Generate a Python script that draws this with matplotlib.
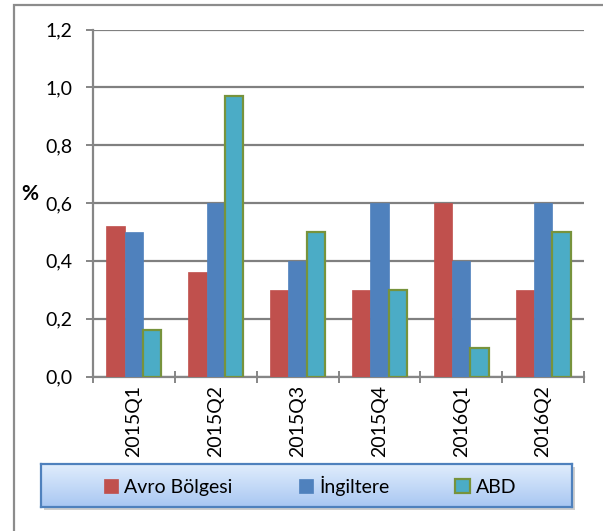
import numpy as np
import matplotlib.pyplot as plt
from matplotlib.patches import Rectangle

quarters = ["2015Q1", "2015Q2", "2015Q3", "2015Q4", "2016Q1", "2016Q2"]
avro = [0.52, 0.36, 0.30, 0.30, 0.60, 0.30]
ingiltere = [0.50, 0.60, 0.40, 0.60, 0.40, 0.60]
abd = [0.16, 0.97, 0.50, 0.30, 0.10, 0.50]
series_names = ["Avro Bölgesi", "İngiltere", "ABD"]
y_ticks = [0.0, 0.2, 0.4, 0.6, 0.8, 1.0, 1.2]

plt.rcParams["font.family"] = ["Lato", "DejaVu Sans"]

W, H = 603, 531
fig = plt.figure(figsize=(W / 100, H / 100), dpi=100)


def fx(px):
    return px / W


def fy(py):
    return 1 - py / H


# outer chart border (cropped on right/bottom)
fig.patches.append(Rectangle((fx(14), fy(560)), fx(620), fy(5) - fy(560),
                             transform=fig.transFigure, fill=False,
                             edgecolor="#8c8c8c", linewidth=1.6, zorder=0))

ax = fig.add_axes([fx(93), fy(376.5), fx(584) - fx(93), fy(29.5) - fy(376.5)])

x = np.arange(len(quarters))
bw = 0.224
ax.bar(x - bw, avro, bw, color="#C0504D", edgecolor="#C0504D", linewidth=0.5,
       label=series_names[0], zorder=3)
ax.bar(x, ingiltere, bw, color="#4F81BD", edgecolor="#4F81BD", linewidth=0.5,
       label=series_names[1], zorder=3)
ax.bar(x + bw, abd, bw, color="#4BACC6", edgecolor="#77933C", linewidth=1.6,
       label=series_names[2], zorder=3)

ax.set_xlim(-0.5, len(quarters) - 0.5)
ax.set_ylim(0, 1.2)
ax.set_yticks(y_ticks)
ax.set_yticklabels([f"{v:.1f}".replace(".", ",") for v in y_ticks], fontsize=14)
ax.set_xticks(x)
ax.set_xticklabels(quarters, rotation=90, fontsize=14)
ax.set_xticks(np.arange(-0.5, len(quarters)), minor=True)
ax.tick_params(axis="x", which="major", length=0, pad=6)
ax.tick_params(axis="x", which="minor", direction="inout", length=9,
               width=1.4, color="#868686")
ax.tick_params(axis="y", direction="out", length=5, width=1.4,
               color="#868686", pad=10)

ax.yaxis.grid(True, color="#808080", linewidth=1.6, zorder=0)
ax.set_axisbelow(True)
for side in ["top", "right"]:
    ax.spines[side].set_visible(False)
for side in ["left", "bottom"]:
    ax.spines[side].set_color("#868686")
    ax.spines[side].set_linewidth(1.6)

fig.text(fx(30), fy(194), "%", fontsize=15, fontweight="bold",
         ha="center", va="center")

# legend box with shadow and gradient
lx0, lx1, ly0, ly1 = 41, 572, 464, 507
fig.patches.append(Rectangle((fx(lx0 + 3), fy(ly1 + 3)), fx(lx1 - lx0), fy(ly0) - fy(ly1),
                             transform=fig.transFigure, facecolor="#b0b0b0",
                             edgecolor="none", alpha=0.6, zorder=1))
lax = fig.add_axes([fx(lx0), fy(ly1), fx(lx1 - lx0), fy(ly0) - fy(ly1)], zorder=2)
grad = np.linspace(0, 1, 64).reshape(-1, 1)
top_c = np.array([0.88, 0.93, 0.99])
bot_c = np.array([0.66, 0.78, 0.95])
img = top_c[None, None, :] * (1 - grad[..., None]) + bot_c[None, None, :] * grad[..., None]
lax.imshow(img, aspect="auto", extent=[0, 1, 0, 1])
lax.set_xticks([])
lax.set_yticks([])
for sp in lax.spines.values():
    sp.set_color("#4F81BD")
    sp.set_linewidth(1.6)

handles, labels = ax.get_legend_handles_labels()
leg = fig.legend(handles, labels, loc="center", ncol=3,
                 bbox_to_anchor=(fx(310), fy(485.5)), frameon=False,
                 fontsize=14, handlelength=0.75, handleheight=0.75,
                 handletextpad=0.3, columnspacing=3.4)
leg.set_zorder(5)

fig.savefig("out.png", dpi=100)
